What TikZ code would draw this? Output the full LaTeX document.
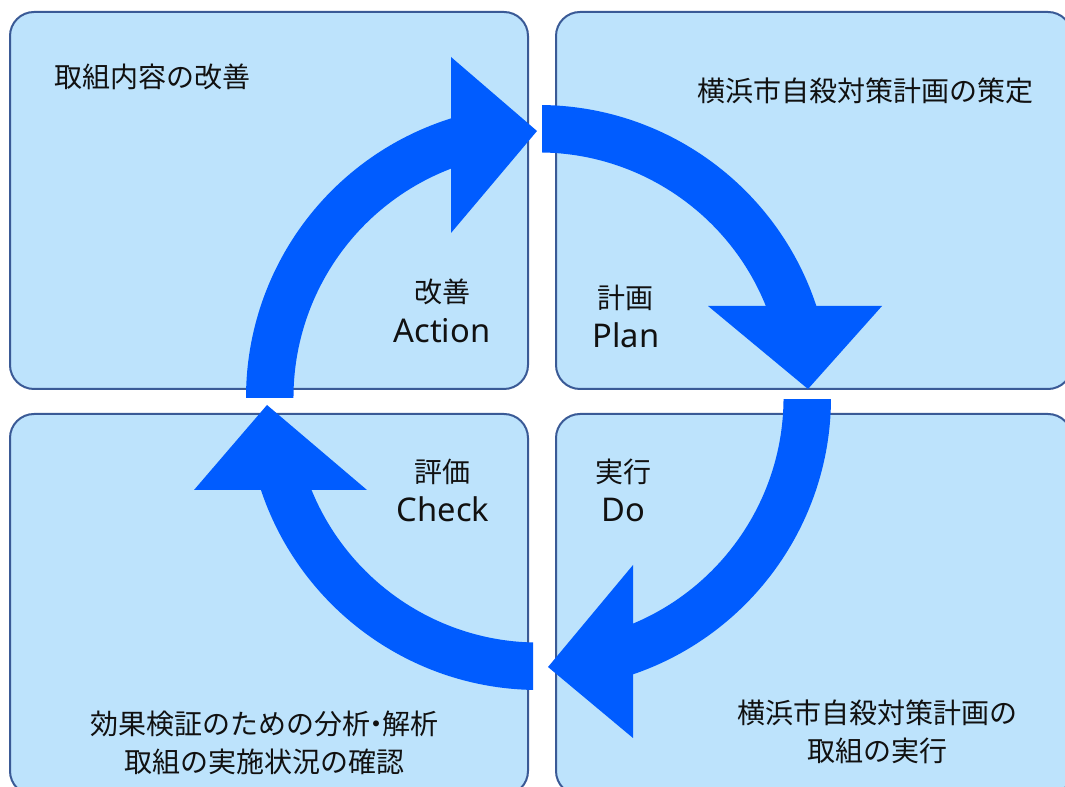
\documentclass[tikz,border=0pt]{standalone}
\usepackage{fontspec}
\setmainfont{Noto Sans CJK JP}
\newfontfamily\latinfont{Noto Sans}
\definecolor{boxfill}{HTML}{BDE3FC}
\definecolor{boxline}{HTML}{3A5A96}
\definecolor{arrowblue}{HTML}{005CFF}
\definecolor{txt}{HTML}{111111}
\begin{document}
\begin{tikzpicture}[x=0.75pt,y=-0.75pt,
  box/.style={draw=boxline, line width=1.5pt, fill=boxfill, rounded corners=18pt, inner sep=0pt},
  band/.style={draw=arrowblue, line width=35.6pt},
  head/.style={fill=arrowblue},
  lab/.style={text=txt, inner sep=0pt, font=\fontsize{21pt}{28.5pt}\selectfont},
  latin/.style={text=txt, inner sep=0pt, anchor=base, font=\latinfont\fontsize{24.5pt}{30pt}\selectfont}]
\useasboundingbox (0,0) rectangle (1065,787);
\clip (0,0) rectangle (1065,787);
\fill[white] (0,0) rectangle (1065,787);
% boxes
\node[box, minimum width=388.5pt, minimum height=282.75pt] (tl) at (269,200.5) {};
\node[box, minimum width=387pt, minimum height=282.75pt] (tr) at (814,200.5) {};
\node[box, minimum width=388.5pt, minimum height=285.75pt] (bl) at (269,604.5) {};
\node[box, minimum width=387pt, minimum height=285.75pt] (br) at (814,604.5) {};
% cycle arrows
\coordinate (c) at (538.5,397.5);
% Action (left -> top)
\begin{scope}
\clip (0,0) rectangle (453,397.5);
\draw[band] (c) ++(175:268.75) arc[start angle=175,end angle=268,radius=268.75];
\end{scope}
\fill[head] (451,57) -- (537,131) -- (451,233) -- cycle;
% Plan (top -> right)
\begin{scope}
\clip (542,0) rectangle (1065,308);
\draw[band] (c) ++(265:268.75) arc[start angle=265,end angle=350,radius=268.75];
\end{scope}
\fill[head] (708,306) -- (882,306) -- (808,389) -- cycle;
% Do (right -> bottom)
\begin{scope}
\clip (631,400) rectangle (1065,787);
\draw[band] (c) ++(-5:268.75) arc[start angle=-5,end angle=80,radius=268.75];
\end{scope}
\fill[head] (633,565) -- (548,667) -- (633,738) -- cycle;
% Check (bottom -> left)
\begin{scope}
\clip (0,488) rectangle (533,787);
\draw[band] (c) ++(85:268.75) arc[start angle=85,end angle=175,radius=268.75];
\end{scope}
\fill[head] (194,490) -- (367,490) -- (267,405) -- cycle;
% texts
\node[lab] (t1) at (152.5,76.5) {取組内容の改善};
\node[lab] (t2) at (865,91) {横浜市自殺対策計画の策定};
\node[lab] (a1) at (442.5,292) {改善};
\node[latin] (a2) at (442,343) {Action};
\node[lab] (p1) at (625.5,298) {計画};
\node[latin] (p2) at (626,348) {Plan};
\node[lab] (d1) at (623,472) {実行};
\node[latin] (d2) at (623,522) {Do};
\node[lab] (c1) at (442.5,472) {評価};
\node[latin] (c2) at (443,522) {Check};
\node[lab, align=center] (t3) at (264.5,743) {効果検証のための分析\makebox[0.45em][c]{・}解析\\取組の実施状況の確認};
\node[lab, align=center] (t4) at (877,732) {横浜市自殺対策計画の\\取組の実行};
\end{tikzpicture}
\end{document}
